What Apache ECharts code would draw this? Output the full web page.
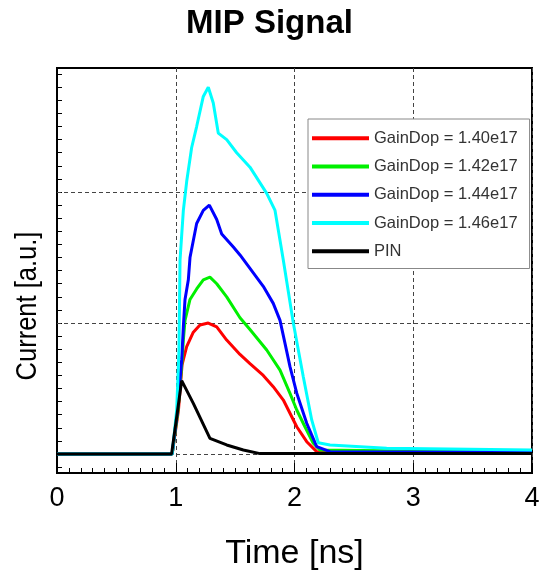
<!DOCTYPE html>
<html>
<head>
<meta charset="utf-8">
<script src="https://cdn.jsdelivr.net/npm/echarts@6/dist/echarts.min.js"></script>
<style>
html,body{margin:0;padding:0;background:#fff;}
#c{width:539px;height:570px;}
</style>
</head>
<body>
<div id="c"></div>
<script>
// ---- data (time in ns, current in a.u.) ----
const seriesNames = ['GainDop = 1.40e17', 'GainDop = 1.42e17', 'GainDop = 1.44e17', 'GainDop = 1.46e17', 'PIN'];
const seriesColors = ['#ff0000', '#00f000', '#0000ff', '#00ffff', '#000000'];

const redT = [0, 0.970, 1.023, 1.053, 1.064, 1.092, 1.148, 1.204, 1.274, 1.345, 1.429, 1.541, 1.625, 1.737, 1.821, 1.906, 2.019, 2.103, 2.187, 4.0];
const redV = [0, 0, 0.336, 0.68, 0.72, 0.82, 0.93, 0.985, 1.00, 0.97, 0.87, 0.76, 0.69, 0.60, 0.514, 0.412, 0.208, 0.094, 0.018, 0.012];

const greenT = [0, 0.970, 1.019, 1.057, 1.064, 1.078, 1.120, 1.176, 1.232, 1.288, 1.345, 1.429, 1.541, 1.625, 1.766, 1.878, 1.962, 2.019, 2.088, 2.158, 2.215, 4.0];
const greenV = [0, 0, 0.336, 0.756, 0.87, 1.02, 1.18, 1.26, 1.33, 1.35, 1.30, 1.20, 1.04, 0.95, 0.794, 0.641, 0.463, 0.336, 0.208, 0.082, 0.03, 0.012];

const blueT = [0, 0.970, 1.015, 1.050, 1.064, 1.078, 1.106, 1.120, 1.176, 1.232, 1.283, 1.345, 1.387, 1.485, 1.541, 1.737, 1.821, 1.878, 1.920, 1.962, 2.019, 2.103, 2.187, 2.299, 4.0];
const blueV = [0, 0, 0.336, 0.72, 0.97, 1.18, 1.33, 1.50, 1.76, 1.86, 1.90, 1.79, 1.68, 1.58, 1.52, 1.28, 1.15, 1.02, 0.845, 0.667, 0.464, 0.235, 0.056, 0.018, 0.015];

const cyanT = [0, 0.970, 1.008, 1.027, 1.036, 1.064, 1.092, 1.134, 1.176, 1.232, 1.274, 1.316, 1.358, 1.429, 1.513, 1.625, 1.766, 1.836, 1.906, 1.990, 2.074, 2.145, 2.200, 2.299, 2.776, 4.0];
const cyanV = [0, 0, 0.336, 0.79, 1.48, 1.86, 2.08, 2.34, 2.50, 2.73, 2.80, 2.68, 2.45, 2.40, 2.30, 2.19, 1.99, 1.86, 1.48, 1.00, 0.59, 0.26, 0.086, 0.069, 0.044, 0.031];

const pinT = [0, 0.965, 1.05, 1.148, 1.288, 1.429, 1.569, 1.709, 4.0];
const pinV = [0, 0, 0.56, 0.387, 0.119, 0.069, 0.031, 0.003, 0.003];

const xTickLabels = ['0', '1', '2', '3', '4'];
const yGridValues = [0, 1, 2];
const yTickValues = [-0.1, 0, 0.1, 0.2, 0.3, 0.4, 0.5, 0.6, 0.7, 0.8, 0.9, 1.0, 1.1, 1.2, 1.3, 1.4, 1.5, 1.6, 1.7, 1.8, 1.9, 2.0, 2.1, 2.2, 2.3, 2.4, 2.5, 2.6, 2.7, 2.8, 2.9];

// ---- build ----
const zip = (t, v) => t.map((x, i) => [x, v[i]]);
const curves = [zip(redT, redV), zip(greenT, greenV), zip(blueT, blueV), zip(cyanT, cyanV), zip(pinT, pinV)];
const FONT = '"Liberation Sans", Arial, sans-serif';

const series = [{
  type: 'line', name: '__grid', data: [], z: 1, silent: true,
  markLine: {
    silent: true, symbol: ['none', 'none'], animation: false, z: 1,
    label: { show: false },
    lineStyle: { color: '#444', type: [4, 3], width: 1 },
    data: yGridValues.map(v => ({ yAxis: v }))
  }
}];
curves.forEach((d, i) => {
  series.push({
    type: 'line', name: seriesNames[i], data: d,
    showSymbol: false, symbol: 'none', smooth: false,
    color: seriesColors[i],
    lineStyle: { color: seriesColors[i], width: 3 },
    z: 2 + i
  });
});

const chart = echarts.init(document.getElementById('c'), null, { renderer: 'canvas' });
chart.setOption({
  animation: false,
  backgroundColor: '#fff',
  title: {
    text: 'MIP Signal', left: 'center', top: 2,
    textStyle: { fontFamily: FONT, fontSize: 33, fontWeight: 'bold', color: '#000' }
  },
  legend: {
    data: seriesNames, orient: 'vertical', left: 308, top: 119, z: 20, zlevel: 0,
    icon: 'rect', itemWidth: 57, itemHeight: 4, itemGap: 0,
    padding: [5, 12, 3, 4],
    backgroundColor: '#fff', borderColor: '#888', borderWidth: 1, borderRadius: 0,
    textStyle: { fontFamily: FONT, fontSize: 16.5, color: '#333', lineHeight: 28.3 },
    selectedMode: false
  },
  grid: {
    left: 57, right: 7, top: 68, bottom: 97,
    outerBoundsMode: 'none', containLabel: false,
    show: true, borderColor: '#000', borderWidth: 2, backgroundColor: 'transparent'
  },
  xAxis: {
    type: 'value', min: 0, max: 4, interval: 1,
    name: 'Time [ns]', nameLocation: 'middle', nameGap: 64,
    nameTextStyle: { fontFamily: FONT, fontSize: 34, color: '#000' },
    axisLine: { show: true, onZero: false, lineStyle: { color: '#000', width: 2 } },
    axisTick: { show: true, inside: true, length: 10, lineStyle: { color: '#000', width: 1 } },
    minorTick: { show: true, splitNumber: 10, length: 5, lineStyle: { color: '#000', width: 1 } },
    axisLabel: {
      margin: 12, fontFamily: FONT, fontSize: 27, color: '#000',
      formatter: v => xTickLabels[Math.round(v)]
    },
    splitLine: { show: true, lineStyle: { color: '#444', type: [4, 3], width: 1 } }
  },
  yAxis: {
    type: 'value', min: -0.145, max: 2.947,
    axisLine: { show: true, onZero: false, lineStyle: { color: '#000', width: 2 } },
    axisTick: { show: true, inside: true, length: 5, customValues: yTickValues, lineStyle: { color: '#000', width: 1 } },
    axisLabel: { show: false },
    splitLine: { show: false }
  },
  graphic: [{
    type: 'text', x: 28, y: 306, rotation: Math.PI / 2, scaleX: 0.85,
    style: {
      text: 'Current [a.u.]', fill: '#000',
      fontFamily: FONT, fontSize: 30,
      align: 'center', verticalAlign: 'middle'
    }
  }],
  series: series
});
</script>
</body>
</html>
